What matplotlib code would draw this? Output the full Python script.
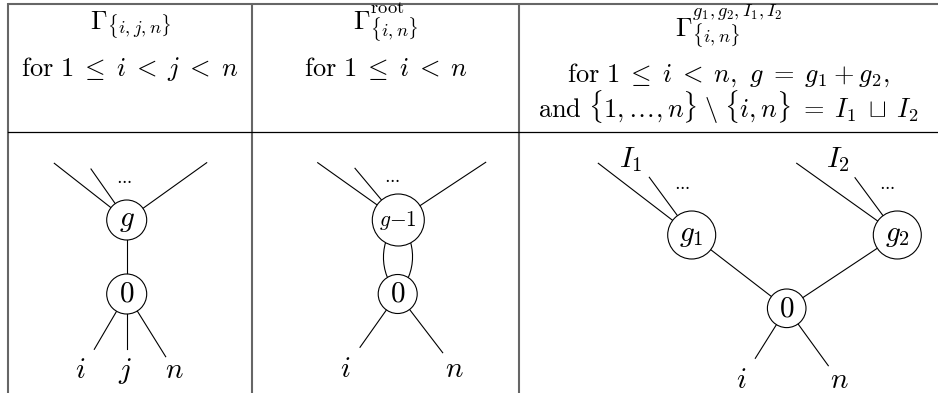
import numpy as np
import matplotlib
matplotlib.use('Agg')
import matplotlib.pyplot as plt
from matplotlib.patches import Circle, PathPatch
from matplotlib.path import Path

plt.rcParams['mathtext.fontset'] = 'cm'

# table layout (pixels)
col_edges = [8, 252, 519, 938]
header_line_y = 132

# header texts per column
col_titles = [r'$\Gamma_{\{i,j,n\}}$',
              r'$\Gamma^{\mathrm{root}}_{\{i,n\}}$',
              r'$\Gamma^{g_1,g_2,I_1,I_2}_{\{i,n\}}$']
title_base = [30, 30, 37]
col_conditions = [[r'$\mathrm{for}\ 1 \;\leq\; i \;<\; j \;<\; n$'],
                  [r'$\mathrm{for}\ 1 \;\leq\; i \;<\; n$'],
                  [r'$\mathrm{for}\ 1 \;\leq\; i \;<\; n,\ g \;=\; g_1 \:+\: g_2,$',
                   r'$\mathrm{and}\ \{1,\ldots,n\} \;\backslash\; \{i,n\} \;=\; I_1 \;\sqcup\; I_2$']]
cond_base = [[76], [76], [82, 118]]

# graph vertices
node_label = [r'$g$', r'$0$', r'$g{-}1$', r'$0$', r'$g_1$', r'$g_2$', r'$0$']
node_x = [126.7, 126.7, 398.3, 397.7, 691.7, 897.3, 786.7]
node_y = [220, 294, 220, 294, 235, 235, 308.3]
node_r = [20, 20, 26, 19.5, 24, 24, 19.3]
node_fs = [21, 21, 15.5, 21, 21, 21, 21]

# edges between vertices (a, b, bend angle)
edges = [(0, 1, 0), (2, 3, 42), (2, 3, -42), (4, 6, 0), (5, 6, 0)]

# half-edges: vertex -> free end
legs_node = [0, 0, 0, 1, 1, 1, 2, 2, 2, 3, 3, 4, 4, 5, 5, 6, 6]
legs_x = [54.3, 91, 206.7, 94.3, 126.7, 165.7, 317.7, 355, 485.7, 360, 442.7,
          598.3, 649.3, 796.7, 855, 755.3, 828.3]
legs_y = [163.3, 169, 162.7, 349.3, 349.3, 356.7, 162.7, 168.3, 162.3, 347.3, 352.7,
          163.3, 177.3, 163.3, 177.7, 358.3, 365.7]

# dots between legs
dots_x = [124, 391.7, 681.7, 887.3]
dots_y = [179, 178.3, 185, 185]

# leg labels
leaf_text = [r'$i$', r'$j$', r'$n$', r'$i$', r'$n$', r'$I_1$', r'$I_2$', r'$i$', r'$n$']
leaf_x = [80.7, 125, 174.3, 345, 454, 631, 838, 741, 839]
leaf_base = [378, 378, 378, 376.7, 376.7, 166.7, 166.7, 388.3, 388.3]

fs = 19
lw = 0.8

fig = plt.figure(figsize=(9.38, 3.93), dpi=100)
ax = fig.add_axes([0, 0, 1, 1])
ax.set_xlim(0, 938)
ax.set_ylim(393, 0)
ax.axis('off')

# table rules
grey = '#666666'
ax.plot([col_edges[0], col_edges[-1]], [3.5, 3.5], color=grey, lw=1.5, solid_capstyle='butt')
for x in col_edges[:-1]:
    ax.plot([x, x], [3, 393], color=grey, lw=1.5, solid_capstyle='butt')
ax.plot([col_edges[0], col_edges[-1]], [header_line_y, header_line_y], color='black', lw=0.9)

# header
for k in range(3):
    cx = (col_edges[k] + col_edges[k + 1]) / 2
    ax.text(cx, title_base[k], col_titles[k], ha='center', va='baseline', fontsize=fs)
    for t, yb in zip(col_conditions[k], cond_base[k]):
        ax.text(cx, yb, t, ha='center', va='baseline', fontsize=fs)


def rot(v, deg):
    a = np.radians(deg)
    return np.array([v[0] * np.cos(a) - v[1] * np.sin(a), v[0] * np.sin(a) + v[1] * np.cos(a)])


# edges go centre to centre, the white vertex discs hide the inner part
for a, b, bend in edges:
    pa = np.array([node_x[a], node_y[a]])
    pb = np.array([node_x[b], node_y[b]])
    if bend == 0:
        ax.plot([pa[0], pb[0]], [pa[1], pb[1]], color='black', lw=lw, zorder=1)
    else:
        d = pb - pa
        L = np.hypot(*d)
        u = d / L
        c1 = pa + rot(u, bend) * 0.3915 * L
        c2 = pb + rot(-u, -bend) * 0.3915 * L
        path = Path([pa, c1, c2, pb], [Path.MOVETO, Path.CURVE4, Path.CURVE4, Path.CURVE4])
        ax.add_patch(PathPatch(path, fill=False, lw=lw, ec='black', zorder=1))

for n, x, y in zip(legs_node, legs_x, legs_y):
    ax.plot([node_x[n], x], [node_y[n], y], color='black', lw=lw, zorder=1)

# vertices
for lab, x, y, r, f in zip(node_label, node_x, node_y, node_r, node_fs):
    ax.add_patch(Circle((x, y), r, fc='white', lw=lw, ec='black', zorder=2))
    ax.text(x, y, lab, ha='center', va='center', fontsize=f, zorder=3)

for x, y in zip(dots_x, dots_y):
    ax.text(x, y, r'$\cdots$', ha='center', va='center', fontsize=12)

for t, x, y in zip(leaf_text, leaf_x, leaf_base):
    ax.text(x, y, t, ha='center', va='baseline', fontsize=21)

fig.savefig('out.png', dpi=100, facecolor='white')
